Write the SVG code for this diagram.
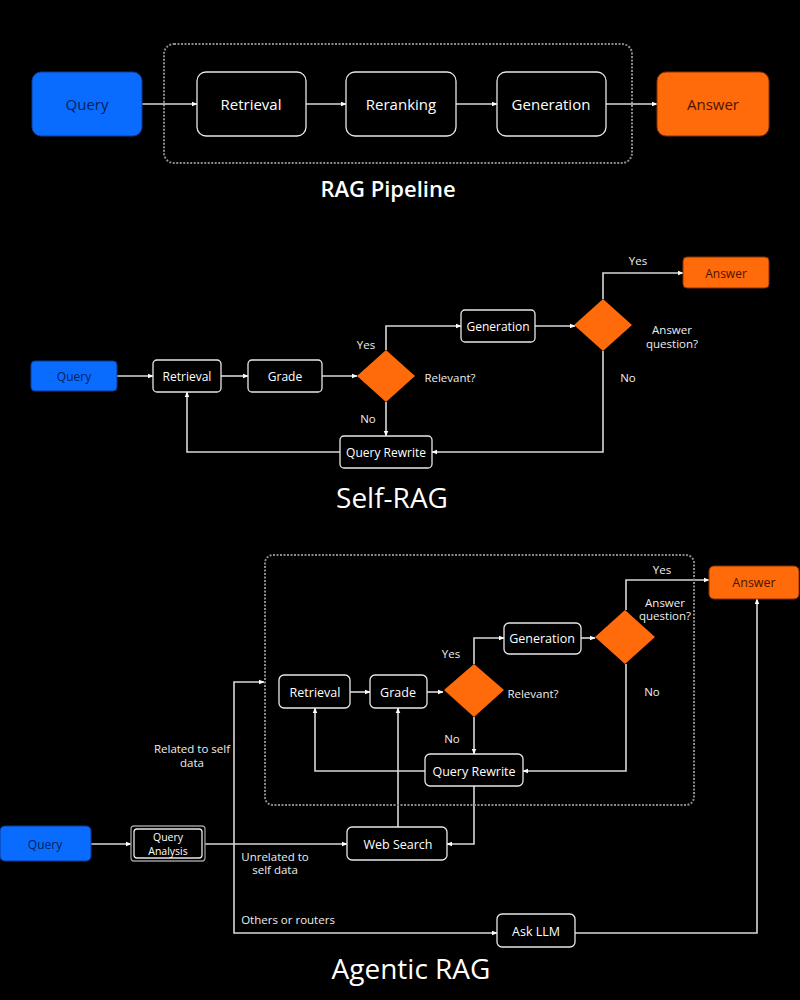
<svg xmlns="http://www.w3.org/2000/svg" width="800" height="1000" viewBox="0 0 800 1000">
<defs>
<marker id="ah" viewBox="0 0 10 10" refX="9" refY="5" markerWidth="6" markerHeight="6" orient="auto" markerUnits="userSpaceOnUse">
<path d="M0,1 L10,5 L0,9 Z" fill="#ffffff"/>
</marker>
<style>
.bg{fill:#000}
.n{fill:#000;stroke:#e8e8e8;stroke-width:1.3}
.n2{fill:#000;stroke:#9a9a9a;stroke-width:1.3}
.blue{fill:#0a6cff;stroke:#0a3a9a;stroke-width:1}
.org{fill:#ff6a0a;stroke:#8a3000;stroke-width:1}
.dia{fill:#ff6a0a}
.cont{fill:none;stroke:#8a8a8a;stroke-width:2;stroke-dasharray:2 1.5}
.c{fill:none;stroke:#d8d8d8;stroke-width:1.6;marker-end:url(#ah)}
text{font-family:"Open Sans","Noto Sans","Liberation Sans",sans-serif;text-anchor:middle;dominant-baseline:central;fill:#fff}
.t1{font-size:15px}
.t2{font-size:12px}
.t3{font-size:12.5px}
.t4{font-size:10.5px}
.lb{font-size:11.5px;fill:#eee}
.dk{fill:#06205a}
.dko{fill:#4a1400}
.title{font-size:28px}
</style>
</defs>
<rect class="bg" x="0" y="0" width="800" height="1000"/>

<!-- ===== RAG Pipeline ===== -->
<rect class="cont" x="164" y="44" width="468" height="119" rx="10"/>
<g id="connectors">
<path class="c" d="M142,104 H197"/>
<path class="c" d="M306,104 H346"/>
<path class="c" d="M456,104 H497"/>
<path class="c" d="M606,104 H657"/>

<!-- Self-RAG -->
<path class="c" d="M117,376 H153"/>
<path class="c" d="M221,376 H248"/>
<path class="c" d="M322,376 H357"/>
<path class="c" d="M386,350 V326 H461"/>
<path class="c" d="M386,402 V436"/>
<path class="c" d="M535,326 H575"/>
<path class="c" d="M603,299 V273 H683"/>
<path class="c" d="M603,351 V452 H432"/>
<path class="c" d="M340,452 H187 V392"/>

<!-- Agentic RAG -->
<path class="c" d="M91,844 H131"/>
<path class="c" d="M205,844 H347"/>
<path class="c" d="M234,844 V682 H264"/>
<path class="c" d="M234,844 V933 H497"/>
<path class="c" d="M350,692 H370"/>
<path class="c" d="M427,692 H443"/>
<path class="c" d="M474,664 V638 H504"/>
<path class="c" d="M581,638 H595"/>
<path class="c" d="M626,610 V580 H709"/>
<path class="c" d="M626,664 V771 H523"/>
<path class="c" d="M474,717 V754"/>
<path class="c" d="M425,771 H315 V708"/>
<path class="c" d="M474,786 V844 H447"/>
<path class="c" d="M398,827 V708"/>
<path class="c" d="M575,933 H757 V599"/>
</g>

<g id="p-query"><rect class="blue" x="32" y="72" width="110" height="64" rx="9"/><text class="t1 dk" x="87" y="104">Query</text></g>
<g id="p-retrieval"><rect class="n" x="197" y="72" width="109" height="64" rx="9"/><text class="t1" x="251" y="104">Retrieval</text></g>
<g id="p-reranking"><rect class="n" x="346" y="72" width="110" height="64" rx="9"/><text class="t1" x="401" y="104">Reranking</text></g>
<g id="p-generation"><rect class="n" x="497" y="72" width="109" height="64" rx="9"/><text class="t1" x="551" y="104">Generation</text></g>
<g id="p-answer"><rect class="org" x="657" y="72" width="112" height="64" rx="9"/><text class="t1 dko" x="713" y="104">Answer</text></g>
<text x="388" y="188" style="font-size:22px;font-weight:600">RAG Pipeline</text>

<!-- ===== Self-RAG ===== -->
<g id="s-query"><rect class="blue" x="31" y="361" width="86" height="30" rx="4"/><text class="t2 dk" x="74" y="376">Query</text></g>
<g id="s-retrieval"><rect class="n" x="153" y="360" width="68" height="32" rx="4"/><text class="t2" x="187" y="376">Retrieval</text></g>
<g id="s-grade"><rect class="n" x="248" y="360" width="74" height="32" rx="4"/><text class="t2" x="285" y="376">Grade</text></g>
<g id="s-relevant"><polygon class="dia" points="386,350 415,376 386,402 357,376"/><text class="lb" x="450" y="377">Relevant?</text></g>
<text class="lb" x="366" y="344">Yes</text>
<text class="lb" x="368" y="418">No</text>
<g id="s-generation"><rect class="n" x="461" y="310" width="74" height="32" rx="4"/><text class="t2" x="498" y="326">Generation</text></g>
<g id="s-answerq"><polygon class="dia" points="603,299 632,325 603,351 574,325"/><text class="lb" x="672" y="329">Answer</text><text class="lb" x="672" y="343">question?</text></g>
<text class="lb" x="638" y="260">Yes</text>
<text class="lb" x="628" y="377">No</text>
<g id="s-answer"><rect class="org" x="683" y="257" width="86" height="31" rx="4"/><text class="t2 dko" x="726" y="273">Answer</text></g>
<g id="s-rewrite"><rect class="n" x="340" y="436" width="92" height="32" rx="4"/><text class="t2" x="386" y="452">Query Rewrite</text></g>
<text class="title" x="392" y="497">Self-RAG</text>

<!-- ===== Agentic RAG ===== -->
<rect class="cont" x="265" y="555" width="429" height="250" rx="8"/>
<g id="a-query"><rect class="blue" x="0" y="826" width="91" height="35" rx="5"/><text class="t2 dk" x="45" y="844">Query</text></g>
<g id="a-analysis"><rect class="n2" x="131" y="826" width="74" height="35" rx="3"/><rect class="n" x="134" y="829" width="68" height="29" rx="3"/><text class="t4" x="168" y="837">Query</text><text class="t4" x="168" y="851">Analysis</text></g>
<g id="a-retrieval"><rect class="n" x="279" y="675" width="71" height="33" rx="5"/><text class="t3" x="315" y="692">Retrieval</text></g>
<g id="a-grade"><rect class="n" x="370" y="675" width="57" height="33" rx="5"/><text class="t3" x="398" y="692">Grade</text></g>
<g id="a-relevant"><polygon class="dia" points="474,664 504,690 474,717 444,690"/><text class="lb" x="533" y="693">Relevant?</text></g>
<text class="lb" x="451" y="653">Yes</text>
<text class="lb" x="452" y="738">No</text>
<g id="a-generation"><rect class="n" x="504" y="623" width="77" height="31" rx="5"/><text class="t3" x="542" y="638">Generation</text></g>
<g id="a-answerq"><polygon class="dia" points="625,610 655,637 625,664 595,637"/><text class="lb" x="665" y="602">Answer</text><text class="lb" x="665" y="615">question?</text></g>
<text class="lb" x="662" y="569">Yes</text>
<text class="lb" x="652" y="691">No</text>
<g id="a-answer"><rect class="org" x="709" y="566" width="90" height="33" rx="5"/><text class="t3 dko" x="754" y="582">Answer</text></g>
<g id="a-rewrite"><rect class="n" x="425" y="754" width="98" height="32" rx="5"/><text class="t3" x="474" y="771">Query Rewrite</text></g>
<g id="a-websearch"><rect class="n" x="347" y="827" width="100" height="33" rx="5"/><text class="t3" x="398" y="844">Web Search</text></g>
<g id="a-askllm"><rect class="n" x="497" y="914" width="78" height="33" rx="5"/><text class="t3" x="536" y="931">Ask LLM</text></g>
<text class="lb" x="192" y="748">Related to self</text>
<text class="lb" x="192" y="762">data</text>
<text class="lb" x="275" y="856">Unrelated to</text>
<text class="lb" x="275" y="869">self data</text>
<text class="lb" x="288" y="919">Others or routers</text>
<text class="title" x="411" y="968">Agentic RAG</text>
</svg>
